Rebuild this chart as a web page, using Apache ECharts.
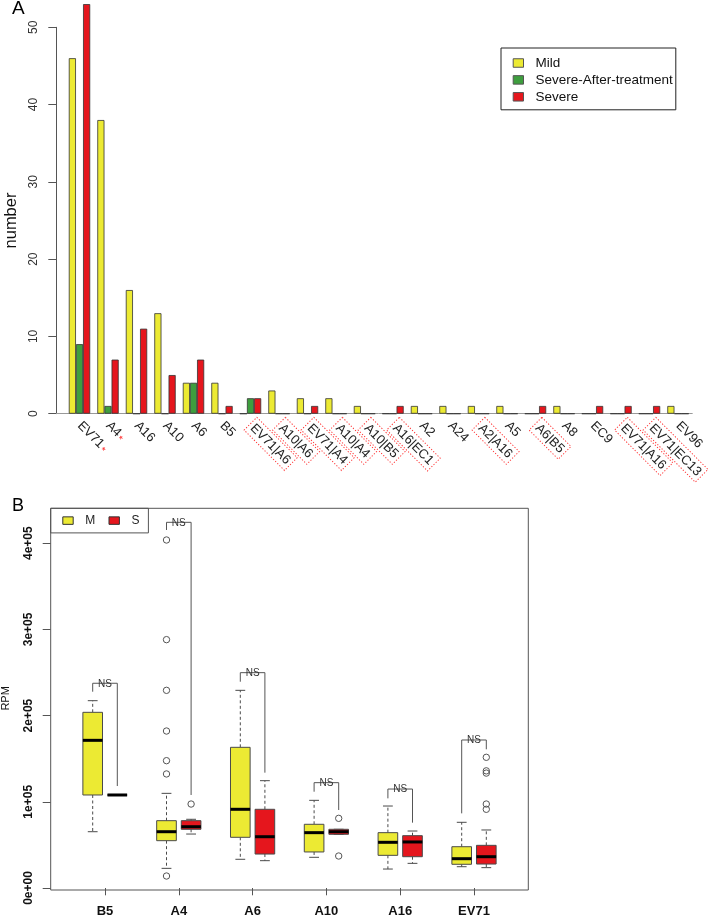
<!DOCTYPE html>
<html><head><meta charset="utf-8">
<script src="https://cdn.jsdelivr.net/npm/echarts@6/dist/echarts.min.js"></script>
<style>html,body{margin:0;padding:0;background:#fff}#c{width:708px;height:918px}</style>
</head><body><div id="c"></div>
<script>
// ---------- Panel A data ----------
const typeCats = ['EV71','A4','A16','A10','A6','B5','EV71|A6','A10|A6','EV71|A4','A10|A4','A10|B5','A16|EC1','A2','A24','A2|A16','A5','A6|B5','A8','EC9','EV71|A16','EV71|EC13','EV96'];
const mildCounts   = [46,38,16,13,4,4,0,3,2,2,1,0,1,1,1,1,0,1,0,0,0,1];
const afterCounts  = [9,1,0,0,4,0,2,0,0,0,0,0,0,0,0,0,0,0,0,0,0,0];
const severeCounts = [53,7,11,5,7,1,2,0,1,0,0,1,0,0,0,0,1,0,1,1,1,0];
const starredCats  = ['EV71','A4'];
const countTicks   = [0,10,20,30,40,50];

// ---------- Panel B data ----------
const boxCats = ['B5','A4','A6','A10','A16','EV71'];
// [lower whisker, Q1, median, Q3, upper whisker]
const mildBox = [
  [65300, 107900, 171300, 203800, 217300],
  [22800, 54900, 65300, 78100, 109800],
  [33300, 58800, 91300, 163200, 229300],
  [35600, 41800, 64200, 73900, 101700],
  [22000, 37900, 53000, 64200, 95100],
  [24700, 27500, 34000, 47900, 76200]
];
const severeBox = [
  [107900, 107900, 107900, 107900, 107900],
  [62600, 68100, 71100, 78100, 79700],
  [31700, 39400, 59500, 91300, 124500],
  [62300, 62300, 65300, 68100, 68100],
  [28600, 36300, 53400, 60700, 66100],
  [23600, 27800, 36300, 49500, 67300]
];
const mildOutliers = [[], [403700, 288100, 229300, 182100, 147700, 132300, 13900], [], [], [], []];
const severeOutliers = [[], [97400], [], [80800, 37100], [], [151600, 135900, 133300, 97400, 91300]];
// NS brackets: [left leg bottom, right leg bottom, top]
const brackets = [
  [227700, 118300, 237500],
  [415300, 107900, 424200],
  [239300, 133800, 249800],
  [111700, 90500, 122200],
  [104000, 75800, 114800],
  [86600, 160900, 171700]
];
const rpmTicks = [0, 100000, 200000, 300000, 400000];
const rpmTickLabels = ['0e+00','1e+05','2e+05','3e+05','4e+05'];

const YEL = '#ECEA33', GRN = '#3E9E3E', RED = '#E5161D';
const FONT = 'Liberation Sans, Arial, sans-serif';

const chart = echarts.init(document.getElementById('c'), null, {renderer: 'canvas'});

function boxRenderer(side, color) {
  return function (params, api) {
    const i = api.value(0);
    const band = api.size([1, 0])[0];
    const cx = api.coord([i, 0])[0] + side * band / 6;
    const bw = band * 0.266;
    const y = k => api.coord([i, api.value(k)])[1];
    const lo = y(1), q1 = y(2), md = y(3), q3 = y(4), hi = y(5);
    const stroke = '#4a4a4a';
    const ch = [];
    const dash = {stroke, lineWidth: 1, lineDash: [3, 2.5], fill: null};
    const solid = {stroke, lineWidth: 1, fill: null};
    if (hi < q3 - 0.5) ch.push({type: 'line', shape: {x1: cx, y1: q3, x2: cx, y2: hi}, style: dash});
    if (lo > q1 + 0.5) ch.push({type: 'line', shape: {x1: cx, y1: q1, x2: cx, y2: lo}, style: dash});
    ch.push({type: 'line', shape: {x1: cx - bw / 4, y1: hi, x2: cx + bw / 4, y2: hi}, style: solid});
    ch.push({type: 'line', shape: {x1: cx - bw / 4, y1: lo, x2: cx + bw / 4, y2: lo}, style: solid});
    ch.push({type: 'rect', shape: {x: cx - bw / 2, y: q3, width: bw, height: Math.max(q1 - q3, 0)}, style: {fill: color, stroke, lineWidth: 1}});
    ch.push({type: 'line', shape: {x1: cx - bw / 2, y1: md, x2: cx + bw / 2, y2: md}, style: {stroke: '#000', lineWidth: 3}});
    return {type: 'group', children: ch};
  };
}
function outlierRenderer(side) {
  return function (params, api) {
    const i = api.value(0);
    const band = api.size([1, 0])[0];
    const p = api.coord([i, api.value(1)]);
    return {type: 'circle', shape: {cx: p[0] + side * band / 6, cy: p[1], r: 3.2},
            style: {fill: null, stroke: '#555', lineWidth: 1}};
  };
}
function bracketRenderer(params, api) {
  const i = api.value(0);
  const band = api.size([1, 0])[0];
  const c = api.coord([i, 0])[0];
  const xl = c - band / 6, xr = c + band / 6;
  const yl = api.coord([i, api.value(1)])[1];
  const yr = api.coord([i, api.value(2)])[1];
  const yt = api.coord([i, api.value(3)])[1];
  return {type: 'group', children: [
    {type: 'polyline', shape: {points: [[xl, yl], [xl, yt], [xr, yt], [xr, yr]]}, style: {fill: null, stroke: '#555', lineWidth: 1}},
    {type: 'text', x: c, y: yt + 0.5, style: {text: 'NS', fontSize: 10, fontFamily: FONT, fill: '#333', align: 'center', verticalAlign: 'middle'}}
  ]};
}

const flatOut = arr => arr.flatMap((vs, i) => vs.map(v => [i, v]));

const option = {
  animation: false,
  backgroundColor: '#fff',
  textStyle: {fontFamily: FONT},
  title: [
    {text: 'A', left: 12, top: -1, padding: 0, textStyle: {fontSize: 19, fontWeight: 'normal', color: '#000', fontFamily: FONT}},
    {text: 'B', left: 12, top: 497, padding: 0, textStyle: {fontSize: 18, fontWeight: 'normal', color: '#000', fontFamily: FONT}}
  ],
  legend: [
    {
      orient: 'vertical', left: 501, top: 48,
      padding: [8, 3, 6, 11.7], itemGap: 2.9, itemWidth: 10.3, itemHeight: 8.5,
      borderColor: '#222', borderWidth: 1, icon: 'rect', selectedMode: false,
      data: [
        {name: 'Mild', itemStyle: {color: YEL, borderColor: '#555', borderWidth: 1}},
        {name: 'Severe-After-treatment', itemStyle: {color: GRN, borderColor: '#555', borderWidth: 1}},
        {name: 'Severe', itemStyle: {color: RED, borderColor: '#555', borderWidth: 1}}
      ],
      formatter: n => '{t|' + n + '}',
      textStyle: {fontFamily: FONT, rich: {t: {fontSize: 13.5, color: '#111', padding: [0, 0, 0, 7], lineHeight: 16, fontFamily: FONT}}}
    },
    {
      orient: 'horizontal', left: 50.7, top: 508.3,
      padding: [6.3, 9, 6.3, 11.6], itemGap: 13.3, itemWidth: 10.4, itemHeight: 7.5,
      borderColor: '#555', borderWidth: 1, icon: 'rect', selectedMode: false,
      data: [
        {name: 'M', itemStyle: {color: YEL, borderColor: '#333', borderWidth: 1}},
        {name: 'S', itemStyle: {color: RED, borderColor: '#333', borderWidth: 1}}
      ],
      formatter: n => '{t|' + n + '}',
      textStyle: {fontFamily: FONT, rich: {t: {fontSize: 12, color: '#222', padding: [0, 0, 0, 7], lineHeight: 14, fontFamily: FONT}}}
    }
  ],
  grid: [
    {left: 65.25, width: 627, top: 4.1, height: 409.6, outerBoundsMode: 'none'},            // A bars
    {left: 56, width: 9.25, top: 27.3, height: 386.4, outerBoundsMode: 'none'},             // A y axis
    {left: 50.7, width: 477.6, top: 508.3, height: 381.7, show: true, borderColor: '#555', borderWidth: 1, backgroundColor: 'transparent', outerBoundsMode: 'none'}, // B frame
    {left: 68.1, width: 442.8, top: 508.7, height: 379.3, outerBoundsMode: 'none'}          // B plot
  ],
  xAxis: [
    {
      gridIndex: 0, type: 'category', data: typeCats,
      axisLine: {show: true, lineStyle: {color: '#999', width: 1}},
      axisTick: {show: false},
      axisLabel: {
        interval: 0, rotate: -45, margin: 10, fontSize: 13, color: '#222', fontFamily: FONT,
        formatter: v => v.indexOf('|') >= 0 ? '{box|' + v + '}' : (starredCats.includes(v) ? '{n|' + v + '}{s|*}' : '{n|' + v + '}'),
        rich: {
          n: {fontSize: 13, color: '#222', fontFamily: FONT},
          s: {fontSize: 10, color: '#f22', fontFamily: FONT, padding: [6, 0, 0, 1]},
          box: {fontSize: 13, color: '#222', fontFamily: FONT, borderColor: '#f33', borderWidth: 1, borderType: [1.2, 1.8], padding: [3, 3, 2, 3]}
        }
      },
      splitLine: {show: false}
    },
    {gridIndex: 1, type: 'value', min: 0, max: 1,
     axisLine: {show: true, lineStyle: {color: '#999', width: 1}},
     axisTick: {show: false}, axisLabel: {show: false}, splitLine: {show: false}},
    {gridIndex: 2, type: 'value', show: false},
    {
      gridIndex: 3, type: 'category', data: boxCats, offset: 2,
      axisLine: {show: false},
      axisTick: {show: true, alignWithLabel: true, length: 7.3, lineStyle: {color: '#555'}},
      axisLabel: {fontSize: 13, fontWeight: 'bold', color: '#111', margin: 15, fontFamily: FONT},
      splitLine: {show: false}
    }
  ],
  yAxis: [
    {gridIndex: 0, type: 'value', min: 0, max: 53, show: false},
    {
      gridIndex: 1, type: 'value', min: 0, max: 50, interval: 10,
      name: 'number', nameLocation: 'middle', nameGap: 36,
      nameTextStyle: {fontSize: 16.5, color: '#111', fontFamily: FONT},
      axisLine: {show: true, lineStyle: {color: '#555'}},
      axisTick: {show: true, length: 7.7, lineStyle: {color: '#555'}},
      axisLabel: {rotate: 90, margin: 16, fontSize: 12, color: '#333', fontFamily: FONT,
                  formatter: v => countTicks.includes(v) ? String(v) : ''},
      splitLine: {show: false}
    },
    {gridIndex: 2, type: 'value', show: false},
    {
      gridIndex: 3, type: 'value', min: 0, max: 440000, offset: 17.4,
      name: 'RPM', nameLocation: 'middle', nameGap: 39,
      nameTextStyle: {fontSize: 11, color: '#111', fontFamily: FONT},
      axisLine: {show: false},
      axisTick: {show: true, length: 8, customValues: rpmTicks, lineStyle: {color: '#555'}},
      axisLabel: {rotate: 90, margin: 16.5, fontSize: 12, fontWeight: 'bold', color: '#111', fontFamily: FONT,
                  customValues: rpmTicks,
                  formatter: v => rpmTickLabels[rpmTicks.indexOf(v)] || ''},
      splitLine: {show: false}
    }
  ],
  series: [
    {name: 'Mild', type: 'bar', xAxisIndex: 0, yAxisIndex: 0, data: mildCounts, barGap: '0%', barCategoryGap: '25%',
     itemStyle: {color: YEL, borderColor: '#333', borderWidth: 0.8}},
    {name: 'Severe-After-treatment', type: 'bar', xAxisIndex: 0, yAxisIndex: 0, data: afterCounts, barGap: '0%', barCategoryGap: '25%',
     itemStyle: {color: GRN, borderColor: '#333', borderWidth: 0.8}},
    {name: 'Severe', type: 'bar', xAxisIndex: 0, yAxisIndex: 0, data: severeCounts, barGap: '0%', barCategoryGap: '25%',
     itemStyle: {color: RED, borderColor: '#333', borderWidth: 0.8}},
    {name: 'M', type: 'custom', xAxisIndex: 3, yAxisIndex: 3, renderItem: boxRenderer(-1, YEL), itemStyle: {color: YEL},
     encode: {x: 0, y: [1, 2, 3, 4, 5]}, clip: false,
     data: mildBox.map((b, i) => [i, ...b])},
    {name: 'S', type: 'custom', xAxisIndex: 3, yAxisIndex: 3, renderItem: boxRenderer(1, RED), itemStyle: {color: RED},
     encode: {x: 0, y: [1, 2, 3, 4, 5]}, clip: false,
     data: severeBox.map((b, i) => [i, ...b])},
    {name: 'M outliers', type: 'custom', xAxisIndex: 3, yAxisIndex: 3, renderItem: outlierRenderer(-1),
     encode: {x: 0, y: 1}, clip: false, data: flatOut(mildOutliers)},
    {name: 'S outliers', type: 'custom', xAxisIndex: 3, yAxisIndex: 3, renderItem: outlierRenderer(1),
     encode: {x: 0, y: 1}, clip: false, data: flatOut(severeOutliers)},
    {name: 'NS', type: 'custom', xAxisIndex: 3, yAxisIndex: 3, renderItem: bracketRenderer,
     encode: {x: 0, y: [1, 2, 3]}, clip: false, data: brackets.map((b, i) => [i, ...b])}
  ]
};
chart.setOption(option);
</script></body></html>
